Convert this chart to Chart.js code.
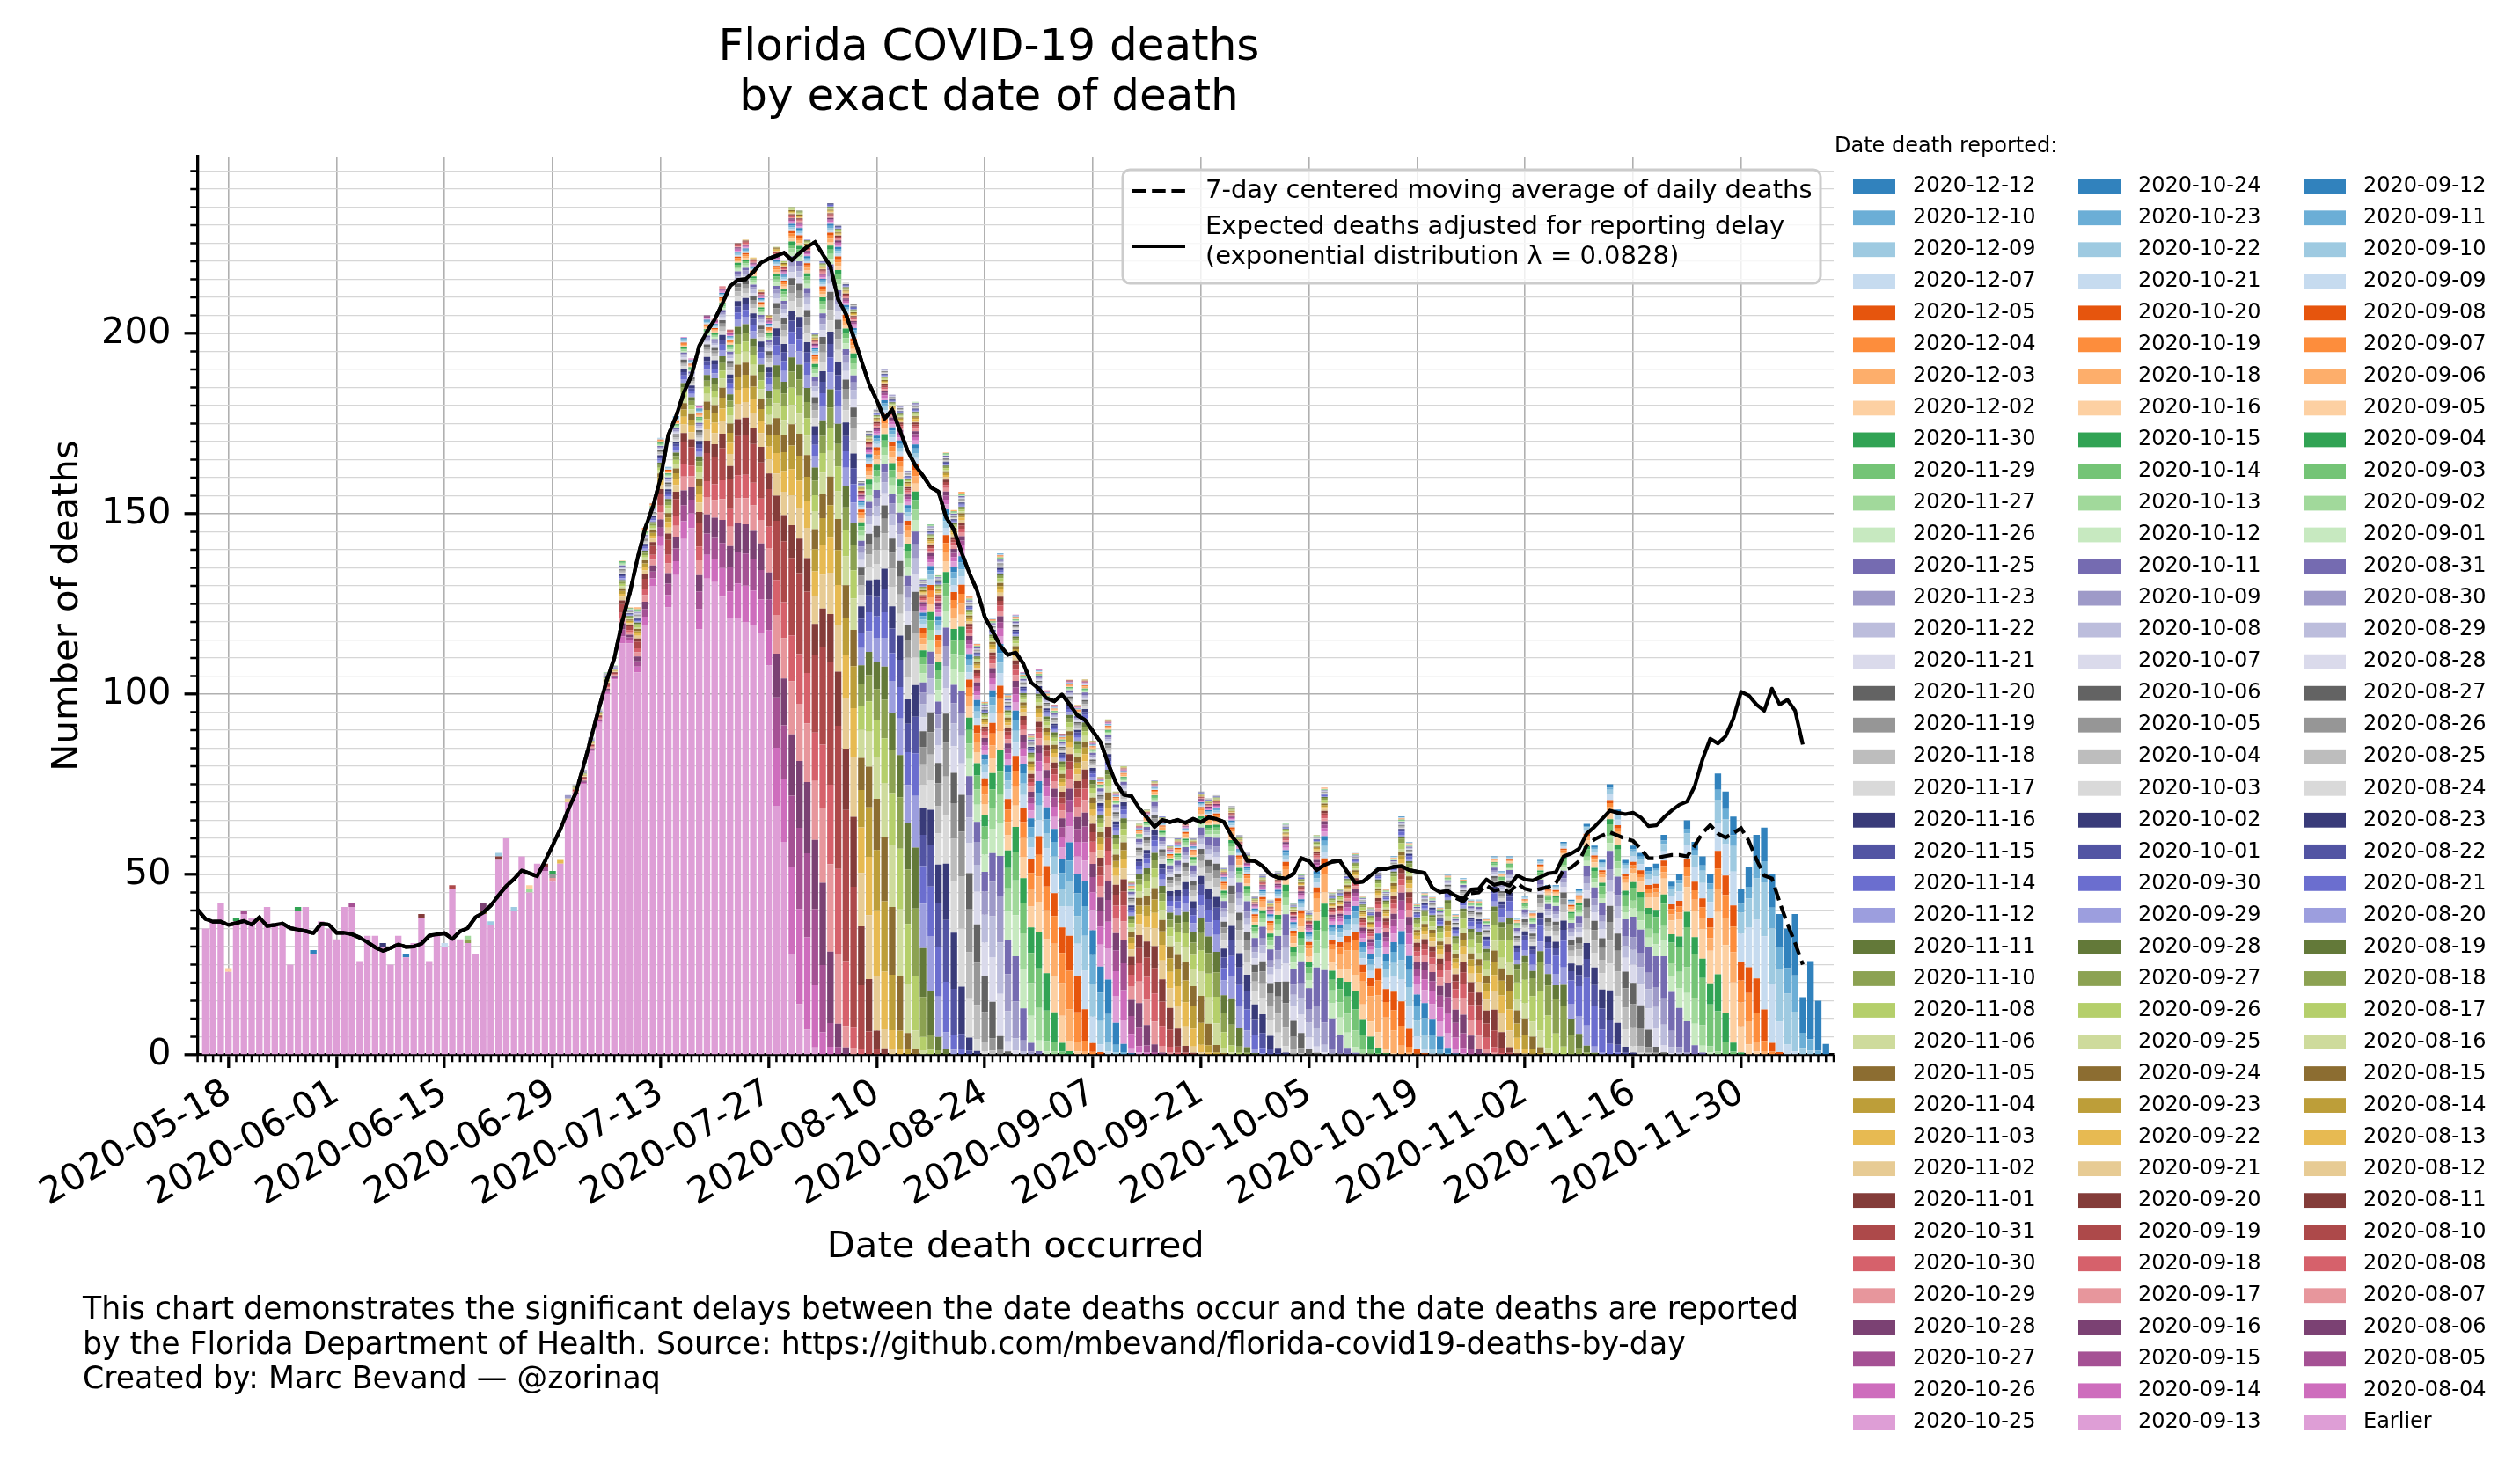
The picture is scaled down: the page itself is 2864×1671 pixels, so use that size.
<!DOCTYPE html>
<html>
<head>
<meta charset="utf-8">
<script src="https://cdn.jsdelivr.net/npm/chart.js"></script>
<style>
  html, body { margin: 0; padding: 0; background: #fff; }
</style>
</head>
<body>
<canvas id="deathsChart" width="2864" height="1671"></canvas>
<script>
// x axis: one slot per day from 2020-05-14 to 2020-12-12
const firstDay = '2020-05-14';
const dayCount = 213;

// report dates, oldest first (legend shows them newest first)
const reportDates = [
  '2020-08-04', '2020-08-05', '2020-08-06', '2020-08-07', '2020-08-08', '2020-08-10', '2020-08-11', '2020-08-12',
  '2020-08-13', '2020-08-14', '2020-08-15', '2020-08-16', '2020-08-17', '2020-08-18', '2020-08-19', '2020-08-20',
  '2020-08-21', '2020-08-22', '2020-08-23', '2020-08-24', '2020-08-25', '2020-08-26', '2020-08-27', '2020-08-28',
  '2020-08-29', '2020-08-30', '2020-08-31', '2020-09-01', '2020-09-02', '2020-09-03', '2020-09-04', '2020-09-05',
  '2020-09-06', '2020-09-07', '2020-09-08', '2020-09-09', '2020-09-10', '2020-09-11', '2020-09-12', '2020-09-13',
  '2020-09-14', '2020-09-15', '2020-09-16', '2020-09-17', '2020-09-18', '2020-09-19', '2020-09-20', '2020-09-21',
  '2020-09-22', '2020-09-23', '2020-09-24', '2020-09-25', '2020-09-26', '2020-09-27', '2020-09-28', '2020-09-29',
  '2020-09-30', '2020-10-01', '2020-10-02', '2020-10-03', '2020-10-04', '2020-10-05', '2020-10-06', '2020-10-07',
  '2020-10-08', '2020-10-09', '2020-10-11', '2020-10-12', '2020-10-13', '2020-10-14', '2020-10-15', '2020-10-16',
  '2020-10-18', '2020-10-19', '2020-10-20', '2020-10-21', '2020-10-22', '2020-10-23', '2020-10-24', '2020-10-25',
  '2020-10-26', '2020-10-27', '2020-10-28', '2020-10-29', '2020-10-30', '2020-10-31', '2020-11-01', '2020-11-02',
  '2020-11-03', '2020-11-04', '2020-11-05', '2020-11-06', '2020-11-08', '2020-11-10', '2020-11-11', '2020-11-12',
  '2020-11-14', '2020-11-15', '2020-11-16', '2020-11-17', '2020-11-18', '2020-11-19', '2020-11-20', '2020-11-21',
  '2020-11-22', '2020-11-23', '2020-11-25', '2020-11-26', '2020-11-27', '2020-11-29', '2020-11-30', '2020-12-02',
  '2020-12-03', '2020-12-04', '2020-12-05', '2020-12-07', '2020-12-09', '2020-12-10', '2020-12-12'
];

// total deaths per day of death (index 0 = 2020-05-14)
const deathTotals = [null,
  35, 37, 42, 24, 38, 40, 38, 38, 41, 36,
  36, 25, 41, 41, 29, 37, 35, 32, 41, 42,
  26, 33, 33, 31, 25, 33, 28, 31, 39, 26,
  33, 31, 47, 32, 33, 28, 42, 37, 56, 60,
  41, 55, 47, 53, 53, 51, 54, 72, 75, 79,
  88, 96, 106, 108, 137, 124, 124, 146, 153, 171,
  163, 177, 199, 193, 180, 205, 204, 213, 201, 225,
  226, 221, 212, 205, 224, 220, 235, 234, 226, 200,
  220, 236, 230, 214, 208, 159, 173, 179, 190, 183,
  180, 162, 181, 132, 147, 133, 167, 151, 156, 127,
  114, 98, 121, 139, 100, 122, 106, 89, 107, 101,
  97, 89, 104, 97, 104, 87, 77, 93, 73, 80,
  48, 64, 68, 76, 66, 58, 60, 65, 60, 73,
  71, 72, 52, 69, 61, 56, 44, 50, 43, 51,
  64, 42, 50, 40, 61, 74, 45, 46, 51, 56,
  44, 41, 52, 46, 55, 66, 59, 42, 45, 44,
  41, 50, 39, 49, 43, 43, 38, 55, 51, 55,
  38, 44, 40, 54, 47, 47, 59, 43, 46, 64,
  58, 54, 75, 68, 54, 58, 56, 52, 53, 61,
  48, 50, 65, 59, 55, 50, 78, 73, 66, 46,
  52, 61, 63, 50, 39, 35, 39, 16, 26, 15, 3
];

// deaths reported before 2020-08-04 ("Earlier"), same indexing
const earlierDeaths = [null,
  35, 37, 42, 23, 37, 39, 38, 37, 41, 36,
  36, 25, 40, 41, 28, 37, 35, 32, 41, 41,
  26, 33, 33, 30, 25, 33, 27, 31, 38, 26,
  33, 30, 46, 32, 31, 28, 39, 36, 54, 60,
  40, 55, 45, 53, 51, 48, 53, 70, 72, 75,
  84, 92, 100, 104, 114, 114, 106, 119, 130, 141,
  124, 133, 143, 146, 118, 132, 131, 127, 121, 121,
  120, 119, 117, 108, 69, 59, 28, 14, 7, 2
];

// small late additions on top of the early bars: [death date, report date, deaths]
const lateReports = [
  ['2020-05-18', '2020-12-02', 1], ['2020-05-19', '2020-11-30', 1], ['2020-05-20', '2020-10-27', 1],
  ['2020-05-22', '2020-11-03', 1], ['2020-05-27', '2020-11-30', 1], ['2020-05-29', '2020-12-12', 1],
  ['2020-06-03', '2020-10-27', 1], ['2020-06-07', '2020-11-16', 1], ['2020-06-10', '2020-12-12', 1],
  ['2020-06-12', '2020-11-01', 1], ['2020-06-15', '2020-12-07', 1], ['2020-06-16', '2020-10-31', 1],
  ['2020-06-18', '2020-11-10', 1], ['2020-06-18', '2020-11-27', 1], ['2020-06-20', '2020-09-24', 1],
  ['2020-06-20', '2020-10-28', 2], ['2020-06-21', '2020-12-09', 1], ['2020-06-22', '2020-11-01', 1],
  ['2020-06-22', '2020-12-09', 1], ['2020-06-24', '2020-12-09', 1], ['2020-06-26', '2020-11-27', 1],
  ['2020-06-26', '2020-12-02', 1], ['2020-06-28', '2020-10-27', 1], ['2020-06-28', '2020-11-01', 1],
  ['2020-06-29', '2020-10-29', 1], ['2020-06-29', '2020-11-19', 1], ['2020-06-29', '2020-11-30', 1],
  ['2020-06-30', '2020-11-03', 1], ['2020-07-01', '2020-11-02', 1], ['2020-07-01', '2020-11-23', 1]
];

const delayShare = [
  1, 3, 9, 11, 10, 8.5, 7, 6, 5.2, 4.5,
  4, 3.6, 3.2, 2.9, 2.6, 2.3, 2.1, 1.9, 1.7, 1.55,
  1.4, 1.3, 1.2, 1.1, 1.0, 0.9, 0.82, 0.75, 0.68, 0.62,
  0.56, 0.5, 0.46, 0.42, 0.38, 0.35, 0.32, 0.29, 0.26, 0.24,
  0.22, 0.2, 0.18, 0.17, 0.16, 0.15, 0.14, 0.13, 0.12, 0.11,
  0.1, 0.1, 0.1, 0.1, 0.1, 0.1, 0.1, 0.1, 0.1, 0.1
];

// expected deaths adjusted for reporting delay (index 0 = 2020-05-14, last = 2020-12-08)
const expectedDeaths = [
  40.2, 37.7, 36.9, 36.9, 36, 36.5, 37.1, 36.1, 38.1, 35.7,
  36, 36.4, 35.1, 34.7, 34.3, 33.7, 36.3, 36.1, 33.8, 33.8,
  33.4, 32.5, 31.2, 29.8, 28.8, 29.6, 30.6, 29.9, 30, 30.8,
  33, 33.4, 33.7, 32.1, 34.2, 35.1, 38.1, 39.4, 41.4, 44.2,
  46.8, 48.7, 51.1, 50.3, 49.5, 53.6, 58, 62.5, 67.8, 72.6,
  80, 88, 96, 103.7, 110, 120, 128, 137.6, 146, 152,
  160, 171.8, 177, 183.6, 188.4, 196.5, 200.5, 203.8, 208.3, 213.1,
  214.8, 215, 217, 219.6, 220.7, 221.5, 222.3, 220.3, 222.3, 224,
  225.3, 221.9, 218.6, 209.4, 205.4, 199, 192.5, 186, 181.5, 176.3,
  178.8, 173.1, 167.4, 163.4, 160.5, 157.3, 156.1, 148.9, 145.6, 139.2,
  133.5, 128.7, 121.4, 117.4, 113.4, 110.9, 111.5, 108.4, 103.2, 101.5,
  98.9, 98, 99.9, 97.1, 94.1, 92.8, 89.7, 86.7, 80.6, 75.4,
  72.1, 71.7, 68.3, 65.8, 63.2, 65.1, 64.5, 65.1, 64.3, 65.4,
  64.5, 65.8, 65.4, 64.5, 60.6, 58, 53.8, 53.7, 52.3, 50,
  49.1, 48.9, 50.2, 54.5, 53.7, 51.2, 52.6, 53.5, 53.8, 50.6,
  47.7, 48, 49.7, 51.5, 51.5, 52.1, 52.3, 51.2, 50.8, 50.4,
  46.3, 45.1, 45.4, 44.1, 43.2, 45.8, 46, 48.6, 47.1, 47.6,
  46.9, 49.7, 48.6, 48.3, 49.3, 50.3, 50.6, 55, 55.8, 57.1,
  61.3, 63.2, 65.4, 67.7, 67.1, 66.7, 67.1, 65.8, 63.4, 63.6,
  65.8, 67.7, 69.3, 70.2, 74.5, 81.9, 87.6, 86.3, 88.3, 93.2,
  100.6, 99.6, 97.1, 95.4, 101.5, 97.1, 98.4, 95.4, 86
];

// 7-day centered moving average of reported deaths
const movingAverage = [
  40.2, 37.7, 36.9, 36.9, 36, 36.5, 37.1, 36.1, 38.1, 35.7,
  36, 36.4, 35.1, 34.7, 34.3, 33.7, 36.3, 36.1, 33.8, 33.8,
  33.4, 32.5, 31.2, 29.8, 28.8, 29.6, 30.6, 29.9, 30, 30.8,
  33, 33.4, 33.7, 32.1, 34.2, 35.1, 38.1, 39.4, 41.4, 44.2,
  46.8, 48.7, 51.1, 50.3, 49.5, 53.6, 58, 62.5, 67.8, 72.6,
  80, 88, 96, 103.7, 110, 120, 128, 137.6, 146, 152,
  160, 171.8, 177, 183.6, 188.4, 196.5, 200.5, 203.8, 208.3, 213.1,
  214.8, 215, 217, 219.6, 220.7, 221.5, 222.3, 220.3, 222.3, 224,
  225.3, 221.9, 218.6, 209.4, 205.4, 199, 192.5, 186, 181.5, 176.3,
  178.8, 173.1, 167.4, 163.4, 160.5, 157.3, 156.1, 148.9, 145.6, 139.2,
  133.5, 128.7, 121.4, 117.4, 113.4, 110.9, 111.5, 108.4, 103.2, 101.5,
  98.9, 98, 99.9, 97.1, 94.1, 92.8, 89.7, 86.7, 80.6, 75.4,
  72.1, 71.7, 68.3, 65.8, 63.2, 65.1, 64.5, 65.1, 64.3, 65.4,
  64.5, 65.8, 65.4, 64.5, 60.6, 58, 53.8, 53.7, 52.3, 50,
  49.1, 48.9, 50.2, 54.5, 53.7, 51.2, 52.6, 53.5, 53.8, 50.6,
  47.7, 48, 49.7, 51.5, 51.5, 52.1, 52.3, 51.2, 50.8, 50.4,
  46.3, 45.1, 45.4, 43.5, 42.5, 44.8, 45, 47, 45.5, 46,
  45, 47.5, 46, 45.5, 46, 46.5, 47.6, 51.2, 51.9, 53.7,
  58, 59.7, 60.8, 61.7, 60.8, 59.9, 59.3, 57.1, 54.5, 54.5,
  55, 55.4, 55.4, 55, 58, 61.5, 63.7, 61.3, 60.2, 61.5,
  62.8, 59.3, 54.1, 49.7, 48.9, 42.3, 36.3, 31, 25
];

// tab20c followed by tab20b, as in the legend
const palette = [
  '#3182bd', '#6baed6', '#9ecae1', '#c6dbef', '#e6550d', '#fd8d3c', '#fdae6b', '#fdd0a2',
  '#31a354', '#74c476', '#a1d99b', '#c7e9c0', '#756bb1', '#9e9ac8', '#bcbddc', '#dadaeb',
  '#636363', '#969696', '#bdbdbd', '#d9d9d9',
  '#393b79', '#5254a3', '#6b6ecf', '#9c9ede', '#637939', '#8ca252', '#b5cf6b', '#cedb9c',
  '#8c6d31', '#bd9e39', '#e7ba52', '#e7cb94', '#843c39', '#ad494a', '#d6616b', '#e7969c',
  '#7b4173', '#a55194', '#ce6dbd', '#de9ed6'
];

const FONT = 'DejaVu Sans';

document.addEventListener("DOMContentLoaded", function () {
  const start = Date.parse(firstDay + 'T00:00:00Z');
  const dayIndex = s => Math.round((Date.parse(s + 'T00:00:00Z') - start) / 864e5);
  const dayLabels = [];
  for (let i = 0; i < dayCount; i++) {
    dayLabels.push(new Date(start + i * 864e5).toISOString().slice(0, 10));
  }
  const isMajorDay = i => i % 14 === 4;
  const isMajorVal = v => Math.abs(v / 50 - Math.round(v / 50)) < 1e-6;

  const reportDay = reportDates.map(dayIndex);
  const nextReport = [];
  for (let r = 0; r < dayCount; r++) nextReport[r] = reportDay.findIndex(d => d >= r);

  const segments = reportDates.map(() => new Array(dayCount).fill(null));
  const earlierData = new Array(dayCount).fill(null);

  for (let d = 1; d < deathTotals.length; d++) {
    const total = deathTotals[d];
    if (total == null) continue;
    const early = earlierDeaths[d] || 0;
    if (early) earlierData[d] = early;
    let rest = total - early;
    lateReports.filter(l => dayIndex(l[0]) === d).forEach(([, rep, n]) => {
      const k = reportDates.indexOf(rep);
      segments[k][d] = (segments[k][d] || 0) + n;
      rest -= n;
    });
    if (rest <= 0) continue;
    const w = new Array(reportDates.length).fill(0);
    let sum = 0;
    for (let r = Math.max(d, reportDay[0]); r < dayCount; r++) {
      const share = delayShare[r - d] || 0;
      if (!share) continue;
      w[nextReport[r]] += share;
      sum += share;
    }
    if (!sum) continue;
    w.forEach((s, k) => {
      if (s) segments[k][d] = (segments[k][d] || 0) + rest * s / sum;
    });
  }

  const nReports = reportDates.length;
  const barDefaults = { type: 'bar', stack: 'reports', order: 2, borderWidth: 0, barPercentage: 0.84, categoryPercentage: 1.0 };
  const barSets = [Object.assign({}, barDefaults, {
    label: 'Earlier', data: earlierData, backgroundColor: palette[nReports % 40]
  })];
  reportDates.forEach((rep, k) => {
    barSets.push(Object.assign({}, barDefaults, {
      label: rep, data: segments[k], backgroundColor: palette[(nReports - 1 - k) % 40]
    }));
  });

  const lineSets = [
    { type: 'line', label: '7-day centered moving average of daily deaths', data: movingAverage, stack: 'ma', order: 1,
      borderColor: '#000', borderWidth: 4.2, borderDash: [15.5, 6.7], pointRadius: 0, tension: 0, fill: false },
    { type: 'line', label: 'Expected deaths adjusted for reporting delay', data: expectedDeaths, stack: 'exp', order: 0,
      borderColor: '#000', borderWidth: 4.2, pointRadius: 0, tension: 0, fill: false, borderJoinStyle: 'round' }
  ];

  const decor = {
    id: 'decor',
    afterDraw(chart) {
      const c = chart.ctx;
      const xs = chart.scales.x, ys = chart.scales.y;
      c.save();

      // minor ticks
      c.strokeStyle = '#000';
      c.lineWidth = 2.5;
      c.beginPath();
      for (let i = 0; i < dayCount; i++) {
        if (isMajorDay(i)) continue;
        const px = xs.getPixelForValue(i);
        c.moveTo(px, ys.bottom);
        c.lineTo(px, ys.bottom + 8.3);
      }
      for (let v = 5; v < 249; v += 5) {
        if (isMajorVal(v)) continue;
        const py = ys.getPixelForValue(v);
        c.moveTo(xs.left, py);
        c.lineTo(xs.left - 8.3, py);
      }
      c.stroke();

      // title
      c.fillStyle = '#000';
      c.textAlign = 'center';
      c.textBaseline = 'alphabetic';
      c.font = '50px "' + FONT + '"';
      c.fillText('Florida COVID-19 deaths', 1124, 68);
      c.fillText('by exact date of death', 1124, 125);

      // line legend box
      c.beginPath();
      c.roundRect(1276, 193, 793, 129, 8);
      c.fillStyle = 'rgba(255,255,255,0.8)';
      c.fill();
      c.strokeStyle = '#cccccc';
      c.lineWidth = 3;
      c.stroke();
      c.strokeStyle = '#000';
      c.lineWidth = 4.2;
      c.setLineDash([15.5, 6.7]);
      c.beginPath(); c.moveTo(1287, 217); c.lineTo(1347, 217); c.stroke();
      c.setLineDash([]);
      c.beginPath(); c.moveTo(1287, 280); c.lineTo(1347, 280); c.stroke();
      c.fillStyle = '#000';
      c.textAlign = 'left';
      c.textBaseline = 'middle';
      c.font = '29px "' + FONT + '"';
      c.fillText('7-day centered moving average of daily deaths', 1370, 217);
      c.fillText('Expected deaths adjusted for reporting delay', 1370, 258);
      c.fillText('(exponential distribution \u03bb = 0.0828)', 1370, 292);

      // report date legend, newest first, 40 rows per column
      c.font = '24px "' + FONT + '"';
      c.fillText('Date death reported:', 2085, 167);
      for (let j = 0; j <= nReports; j++) {
        const col = Math.floor(j / 40), row = j % 40;
        const x0 = 2106 + col * 256;
        const yc = 211.7 + row * 36.03;
        c.fillStyle = palette[j % 40];
        c.fillRect(x0, yc - 8.4, 48, 16.8);
        c.fillStyle = '#000';
        c.fillText(j < nReports ? reportDates[nReports - 1 - j] : 'Earlier', x0 + 68, yc);
      }

      // footnote
      c.textBaseline = 'alphabetic';
      c.font = '34.7px "' + FONT + '"';
      c.fillText('This chart demonstrates the significant delays between the date deaths occur and the date deaths are reported', 94, 1499);
      c.fillText('by the Florida Department of Health. Source: https://github.com/mbevand/florida-covid19-deaths-by-day', 94, 1539);
      c.fillText('Created by: Marc Bevand \u2014 @zorinaq', 94, 1578);
      c.restore();
    }
  };

  const ctx = document.getElementById('deathsChart').getContext('2d');
  Chart.defaults.font.family = FONT;
  Chart.defaults.color = '#000';

  new Chart(ctx, {
    type: 'bar',
    data: { labels: dayLabels, datasets: lineSets.concat(barSets) },
    options: {
      responsive: false,
      animation: false,
      devicePixelRatio: 1,
      events: [],
      layout: { padding: { left: 0, right: 780, top: 178, bottom: 222 } },
      plugins: { legend: { display: false }, tooltip: { enabled: false } },
      scales: {
        x: {
          type: 'category',
          stacked: true,
          offset: false,
          z: 1,
          afterFit: s => { s.height = 250; },
          border: { color: '#000', width: 3.3 },
          grid: {
            offset: false,
            lineWidth: 1.6,
            color: c => isMajorDay(c.index) ? '#b0b0b0' : 'rgba(0,0,0,0)',
            tickLength: 15,
            tickWidth: 3.3,
            tickColor: c => isMajorDay(c.index) ? '#000' : 'rgba(0,0,0,0)'
          },
          ticks: {
            autoSkip: false,
            minRotation: 30,
            maxRotation: 30,
            padding: 4,
            font: { size: 41.7 },
            callback: (v, i) => isMajorDay(i) ? dayLabels[i] : ''
          },
          title: { display: true, text: 'Date death occurred', font: { size: 41.7 }, padding: { top: 0, bottom: 6 } }
        },
        y: {
          stacked: true,
          min: 0,
          max: 249,
          z: 1,
          afterFit: s => { s.width = 224.6; },
          border: { color: '#000', width: 3.3 },
          grid: {
            lineWidth: c => c.tick && isMajorVal(c.tick.value) ? 1.6 : 1.3,
            color: c => c.tick && isMajorVal(c.tick.value) ? '#b0b0b0' : '#d6d6d6',
            tickLength: 15,
            tickWidth: 3.3,
            tickColor: c => c.tick && isMajorVal(c.tick.value) ? '#000' : 'rgba(0,0,0,0)'
          },
          ticks: {
            stepSize: 5,
            autoSkip: false,
            includeBounds: false,
            padding: 15,
            font: { size: 41.7 },
            callback: v => isMajorVal(v) ? Math.round(v) : ''
          },
          title: { display: true, text: 'Number of deaths', font: { size: 41.7 }, padding: { top: 52, bottom: 0 } }
        }
      }
    },
    plugins: [decor]
  });
});
</script>
</body>
</html>
